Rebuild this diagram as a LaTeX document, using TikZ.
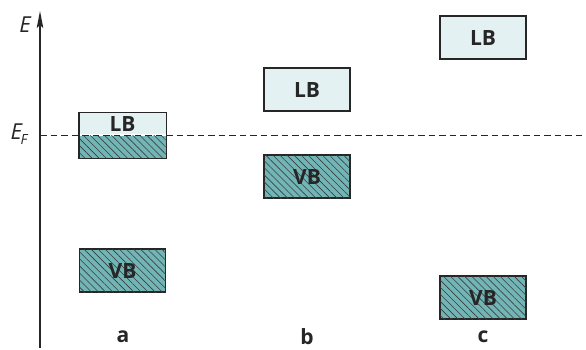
\documentclass[tikz,border=0pt]{standalone}
\usepackage{fontspec}
\setmainfont{Open Sans}
\usetikzlibrary{%
  arrows.meta,%
  patterns.meta,% wg. hatching
  positioning%
}
\definecolor{bandlight}{HTML}{E3F1F3}
\definecolor{bandteal}{HTML}{72B5B6}
\definecolor{bandline}{HTML}{262626}
\tikzset{
  band/.style={draw=bandline, line width=1.2pt, inner sep=0pt,
    minimum width=86pt, minimum height=43pt, text=bandline,
    font=\fontsize{21}{21}\selectfont\bfseries},
  lbband/.style={band, fill=bandlight},
  vbband/.style={band, fill=bandteal,
    postaction={pattern={Lines[angle=-45,distance=5pt,line width=0.6pt]},
      pattern color=bandline!90}},
  caselabel/.style={font=\fontsize{21}{21}\selectfont\bfseries, text=bandline}
}
\begin{document}
\begin{tikzpicture}[x=1pt, y=-1pt, >=Stealth, line width=1.2pt, bandline]
\useasboundingbox (0,0) rectangle (586,349);

% energy axis
\coordinate (axbot) at (40,348);
\coordinate (axtop) at (40,11);
\draw [-{Stealth[length=17pt,width=6.5pt,inset=3pt]}] (axbot) -- (axtop);
\node (elab) at (25,25) {\fontsize{22}{22}\selectfont\itshape E};
\node (eflab) at (19,134) {\fontsize{22}{22}\selectfont\itshape E\kern-1.5pt\raisebox{-4.5pt}{\fontsize{14}{14}\selectfont F}};

% Fermi level
\coordinate (efl) at (40,135);
\coordinate (efr) at (586,135);

% a: metal
\node [lbband, minimum height=21pt, anchor=south, draw=none] (lba) at (122.5,135) {LB};
\node [vbband, minimum height=22pt, anchor=north, draw=none] (vbatop) at (122.5,135) {};
\draw (lba.north west) rectangle (vbatop.south east);
\node [vbband] (vba) at (122.5,270.5) {VB};

% b: semiconductor
\node [lbband] (lbb) at (307,89.5) {LB};
\node [vbband] (vbb) at (307,176.5) {VB};

% c: insulator
\node [lbband] (lbc) at (483,37.5) {LB};
\node [vbband] (vbc) at (483,297.5) {VB};

\draw [dashed, dash pattern=on 6.5pt off 4pt, line width=1pt] (efl) -- (efr);

\node [caselabel] (ca) at (123,337) {a};
\node [caselabel] (cb) at (307,337) {b};
\node [caselabel] (cc) at (483,337) {c};

\end{tikzpicture}
\end{document}
